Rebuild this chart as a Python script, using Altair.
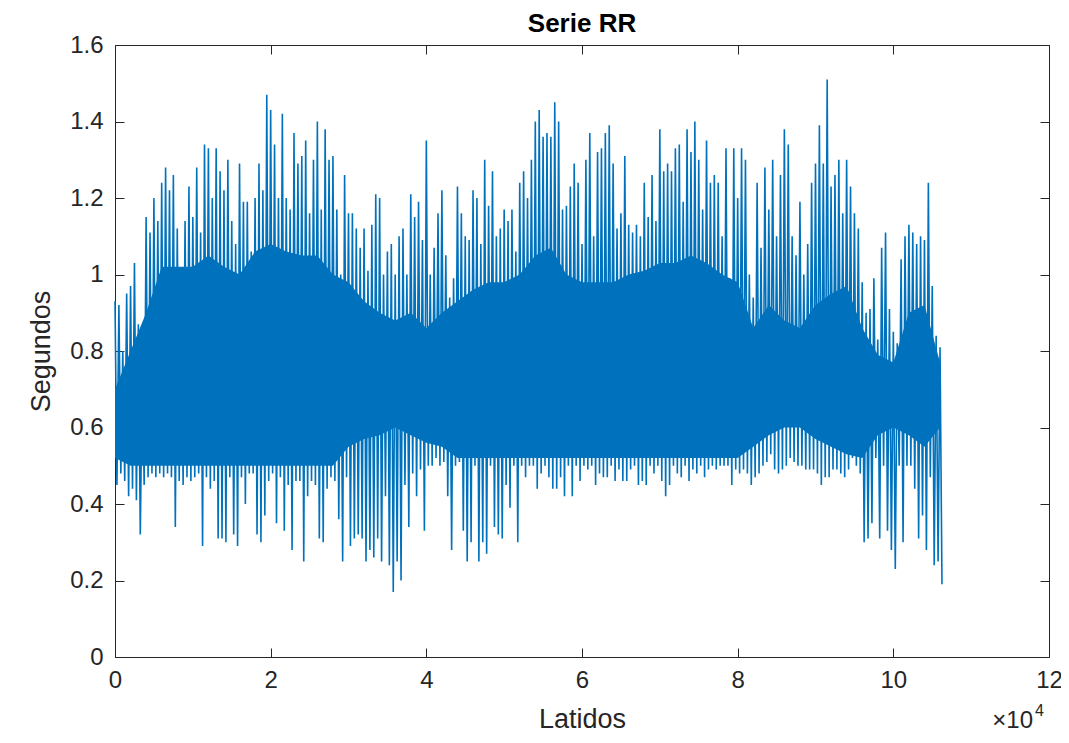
import altair as alt
import pandas as pd

# ---- data ----
# upper excursions of the RR series, one every 500 beats (0 .. 106000)
hi_vals = [
    0.93, 0.92, 0.80, 0.95, 0.97, 1.03, 0.87, 0.75, 1.15, 1.11, 1.20, 1.14, 1.24, 1.28,
    1.22, 1.26, 1.12, 0.98, 1.14, 1.23, 1.15, 1.28, 1.11, 1.34, 1.33, 1.20, 1.33,
    1.27, 1.22, 1.30, 1.14, 1.08, 1.29, 1.19, 1.19, 1.06, 1.20, 1.29, 1.22, 1.47, 1.43,
    1.34, 1.20, 1.42, 1.20, 1.17, 1.37, 1.29, 1.31, 1.35, 1.16, 1.30, 1.40, 1.17,
    1.38, 1.30, 1.31, 1.17, 1.00, 1.26, 1.16, 1.16, 1.12, 1.07, 1.12, 1.01, 1.13, 1.21,
    1.20, 1.00, 1.06, 1.08, 1.00, 1.10, 1.12, 1.00, 1.21, 1.15, 1.19, 1.09, 1.35,
    1.00, 1.07, 1.16, 1.22, 1.05, 0.94, 0.99, 1.23, 1.16, 1.10, 1.09, 1.22, 1.20, 1.08,
    1.30, 1.18, 1.27, 1.10, 1.12, 1.17, 1.14, 1.17, 1.06, 1.24, 1.27, 1.20, 1.30,
    1.40, 1.43, 1.36, 1.37, 1.36, 1.45, 1.40, 1.17, 1.18, 1.23, 1.29, 1.24, 1.08, 1.30,
    1.37, 1.10, 1.32, 1.33, 1.37, 1.39, 1.29, 1.12, 1.16, 1.31, 1.13, 1.11, 1.13,
    1.10, 1.24, 1.15, 1.26, 1.14, 1.38, 1.27, 1.29, 1.27, 1.33, 1.34, 1.19, 1.38, 1.32,
    1.40, 1.30, 1.17, 1.35, 1.24, 1.26, 1.24, 1.10, 1.33, 0.99, 1.33, 1.20, 1.33,
    1.30, 1.00, 0.94, 1.24, 1.07, 1.28, 1.17, 1.30, 1.10, 1.26, 1.38, 1.34, 1.10, 1.05,
    1.19, 1.00, 1.08, 1.24, 1.29, 1.39, 1.29, 1.51, 1.23, 1.26, 1.30, 1.16, 1.30,
    1.23, 1.16, 1.12, 0.98, 0.90, 0.91, 0.99, 0.83, 1.07, 1.11, 0.91, 0.85, 0.82, 1.04,
    1.10, 1.13, 1.11, 1.08, 1.10, 1.09, 1.24, 0.97, 0.84, 0.81,
]
# lower excursions, one every 500 beats (250 .. 106250)
lo_vals = [
    0.45, 0.48, 0.46, 0.42, 0.44, 0.41, 0.32, 0.45, 0.47, 0.48, 0.47, 0.48, 0.47, 0.48,
    0.47, 0.34, 0.46, 0.45, 0.47, 0.46, 0.47, 0.48, 0.29, 0.47, 0.44, 0.46,
    0.31, 0.31, 0.30, 0.47, 0.32, 0.29, 0.47, 0.40, 0.48, 0.48, 0.32, 0.30, 0.37, 0.46,
    0.48, 0.35, 0.47, 0.33, 0.45, 0.28, 0.46, 0.46, 0.25, 0.42, 0.46, 0.45, 0.31,
    0.30, 0.44, 0.47, 0.46, 0.36, 0.25, 0.47, 0.29, 0.31, 0.32, 0.31, 0.25, 0.28, 0.26,
    0.31, 0.25, 0.42, 0.24, 0.17, 0.25, 0.20, 0.45, 0.34, 0.48, 0.42, 0.49, 0.33,
    0.50, 0.50, 0.52, 0.50, 0.51, 0.42, 0.28, 0.50, 0.51, 0.33, 0.25, 0.30, 0.50, 0.25,
    0.30, 0.27, 0.50, 0.34, 0.32, 0.31, 0.45, 0.39, 0.50, 0.30, 0.50, 0.47, 0.50,
    0.50, 0.44, 0.48, 0.50, 0.47, 0.44, 0.44, 0.47, 0.42, 0.50, 0.42, 0.50, 0.46, 0.50,
    0.49, 0.50, 0.45, 0.48, 0.47, 0.47, 0.50, 0.46, 0.49, 0.46, 0.46, 0.49, 0.50,
    0.45, 0.46, 0.45, 0.50, 0.48, 0.50, 0.46, 0.42, 0.45, 0.50, 0.48, 0.47, 0.50, 0.46,
    0.49, 0.48, 0.50, 0.47, 0.49, 0.50, 0.49, 0.50, 0.50, 0.50, 0.45, 0.49, 0.48,
    0.49, 0.48, 0.45, 0.47, 0.48, 0.50, 0.51, 0.53, 0.49, 0.48, 0.49, 0.50, 0.52, 0.51,
    0.50, 0.50, 0.49, 0.49, 0.49, 0.48, 0.45, 0.47, 0.47, 0.49, 0.49, 0.48, 0.47,
    0.49, 0.52, 0.50, 0.48, 0.30, 0.31, 0.35, 0.52, 0.31, 0.50, 0.33, 0.28, 0.23, 0.50,
    0.30, 0.50, 0.50, 0.44, 0.31, 0.37, 0.28, 0.47, 0.24, 0.25, 0.19,
]
hi_beats = list(range(0, 106001, 500))
lo_beats = list(range(250, 106251, 500))

# dense core of the series, every 2000 beats
band_beats = list(range(0, 106001, 2000))
band_hi = [
    0.70, 0.80, 0.90, 1.02, 1.02, 1.02, 1.05, 1.02, 1.00, 1.06, 1.08, 1.06, 1.05, 1.05,
    1.00, 0.98, 0.93, 0.90, 0.88, 0.90, 0.86, 0.90, 0.93, 0.96, 0.98, 0.98, 1.00, 1.05,
    1.07, 1.00, 0.98, 0.98, 0.98, 1.00, 1.01, 1.03, 1.03, 1.05, 1.03, 1.00, 0.98, 0.86,
    0.92, 0.88, 0.86, 0.92, 0.95, 0.97, 0.86, 0.79, 0.77, 0.90, 0.92, 0.77,
]
band_lo = [
    0.52, 0.50, 0.50, 0.50, 0.50, 0.50, 0.50, 0.50, 0.50, 0.50, 0.50, 0.50, 0.50, 0.50,
    0.50, 0.55, 0.57, 0.58, 0.60, 0.58, 0.56, 0.55, 0.52, 0.52, 0.52, 0.52, 0.52, 0.52,
    0.52, 0.52, 0.52, 0.52, 0.52, 0.52, 0.52, 0.52, 0.52, 0.52, 0.52, 0.52, 0.52, 0.55,
    0.58, 0.60, 0.60, 0.57, 0.55, 0.53, 0.52, 0.58, 0.60, 0.58, 0.55, 0.60,
]

x_ticks = [0, 20000, 40000, 60000, 80000, 100000, 120000]
y_ticks = [0, 0.2, 0.4, 0.6, 0.8, 1.0, 1.2, 1.4, 1.6]

# ---- tables ----
rows = sorted(list(zip(hi_beats, hi_vals)) + list(zip(lo_beats, lo_vals)))
sig = pd.DataFrame(rows, columns=["latido", "rr"])
band = pd.DataFrame({"latido": band_beats, "lo": band_lo, "hi": band_hi})

BLUE = "#0072BD"
AX = "#262626"
FONT = "Liberation Sans"
W, H = 934, 612

xscale = alt.Scale(domain=[0, 120000], nice=False, zero=False)
yscale = alt.Scale(domain=[0, 1.6], nice=False, zero=False)

tick_common = dict(domain=False, grid=False, tickSize=9, offset=-9, tickColor=AX,
                   tickWidth=1)

x_main = alt.Axis(orient="bottom", values=x_ticks, labelExpr="datum.value / 10000",
                  labelFont=FONT, labelFontSize=24, labelColor=AX, labelPadding=11,
                  labelFlush=False,
                  title="Latidos", titleFont=FONT, titleFontSize=27,
                  titleFontWeight="normal", titleColor=AX, titlePadding=14,
                  **tick_common)
y_main = alt.Axis(orient="left", values=y_ticks,
                  labelExpr="format(datum.value, '.1~f')", labelFlush=False,
                  labelFont=FONT, labelFontSize=24, labelColor=AX, labelPadding=12,
                  title="Segundos", titleFont=FONT, titleFontSize=27,
                  titleFontWeight="normal", titleColor=AX, titlePadding=14,
                  **tick_common)
x_top = alt.Axis(orient="top", values=x_ticks, labels=False, title=None, **tick_common)
y_right = alt.Axis(orient="right", values=y_ticks, labels=False, title=None,
                   **tick_common)

area = alt.Chart(band).mark_area(color=BLUE, opacity=1, strokeWidth=0).encode(
    x=alt.X("latido:Q", scale=xscale, axis=x_main),
    y=alt.Y("lo:Q", scale=yscale, axis=y_main),
    y2="hi:Q",
)

line = alt.Chart(sig).mark_line(color=BLUE, strokeWidth=1.6).encode(
    x=alt.X("latido:Q", scale=xscale, axis=x_top),
    y=alt.Y("rr:Q", scale=yscale, axis=y_right),
)

one = alt.Data(values=[{}])
title_txt = alt.Chart(one).mark_text(text="Serie RR", font=FONT, fontSize=26,
                                     fontWeight="bold", color="black", align="center",
                                     baseline="alphabetic").encode(
    x=alt.value(W / 2), y=alt.value(-13))
exp_base = alt.Chart(one).mark_text(text="\u00d710", font=FONT, fontSize=24, color=AX,
                                    align="right", baseline="alphabetic").encode(
    x=alt.value(W - 16), y=alt.value(H + 71))
exp_sup = alt.Chart(one).mark_text(text="4", font=FONT, fontSize=16, color=AX,
                                   align="left", baseline="alphabetic").encode(
    x=alt.value(W - 14), y=alt.value(H + 59))

chart = alt.layer(area, line, title_txt, exp_base, exp_sup).resolve_axis(
    x="independent", y="independent"
).properties(
    width=W, height=H,
    autosize=alt.AutoSizeParams(type="none"),
    padding={"left": 107, "top": 37, "right": 12, "bottom": 76},
).configure_view(stroke=AX, strokeWidth=1)

chart.save("out.html", embed_options={"renderer": "svg", "actions": False})
